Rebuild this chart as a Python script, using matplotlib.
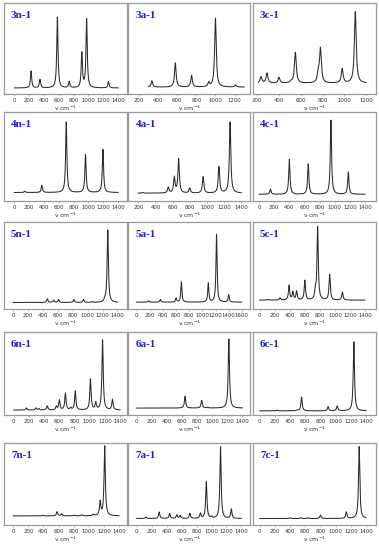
import matplotlib

matplotlib.use("Agg")
import matplotlib.pyplot as plt
import numpy as np

# panel names, row by row
names = ["3n-1", "3a-1", "3c-1",
         "4n-1", "4a-1", "4c-1",
         "5n-1", "5a-1", "5c-1",
         "6n-1", "6a-1", "6c-1",
         "7n-1", "7a-1", "7c-1"]

# wavenumber span of each trace (cm-1)
spans = [(0, 1400), (300, 1300), (210, 1200),
         (0, 1400), (200, 1400), (0, 1400),
         (0, 1400), (0, 1600), (0, 1400),
         (0, 1400), (0, 1400), (0, 1400),
         (0, 1400), (0, 1400), (0, 1400)]

# tick labels
ticks = [list(range(0, 1401, 200)), list(range(200, 1201, 200)), list(range(200, 1201, 200)),
         list(range(0, 1401, 200)), list(range(200, 1401, 200)), list(range(0, 1401, 200)),
         list(range(0, 1401, 200)), list(range(0, 1601, 200)), list(range(0, 1401, 200)),
         list(range(0, 1401, 200)), list(range(0, 1401, 200)), list(range(0, 1401, 200)),
         list(range(0, 1401, 200)), list(range(0, 1401, 200)), list(range(0, 1401, 200))]

# band positions (cm-1) and relative intensities
peak_pos = [
    [225, 345, 580, 740, 910, 975, 1270],
    [335, 580, 750, 930, 1000, 1210],
    [235, 290, 400, 510, 550, 760, 780, 980, 1100],
    [140, 370, 700, 960, 1195],
    [250, 550, 620, 670, 800, 955, 1140, 1270],
    [150, 400, 650, 950, 1180],
    [460, 545, 610, 815, 945, 1060, 1230, 1270],
    [180, 360, 600, 680, 1090, 1215, 1400],
    [110, 270, 390, 440, 490, 600, 740, 770, 930, 1100],
    [165, 290, 330, 440, 560, 600, 680, 750, 810, 1010, 1080, 1170, 1300],
    [640, 860, 940, 1220],
    [230, 490, 550, 900, 1020, 1240],
    [395, 580, 640, 800, 905, 1060, 1150, 1210],
    [120, 300, 440, 535, 580, 710, 850, 930, 1000, 1120, 1265],
    [400, 540, 640, 800, 1140, 1310],
]
peak_int = [
    [0.24, 0.12, 1.0, 0.09, 0.49, 0.97, 0.09],
    [0.09, 0.35, 0.17, 0.06, 1.0, 0.03],
    [0.09, 0.14, 0.08, 0.02, 0.43, 0.12, 0.48, 0.20, 1.0],
    [0.02, 0.10, 1.0, 0.54, 0.61],
    [0.01, 0.08, 0.22, 0.48, 0.07, 0.23, 0.37, 1.0],
    [0.07, 0.47, 0.41, 1.0, 0.30],
    [0.05, 0.03, 0.04, 0.04, 0.04, 0.01, 0.03, 1.0],
    [0.02, 0.04, 0.06, 0.30, 0.28, 1.0, 0.11],
    [0.01, 0.03, 0.20, 0.11, 0.12, 0.27, 0.11, 1.0, 0.35, 0.11],
    [0.03, 0.03, 0.02, 0.06, 0.05, 0.14, 0.24, 0.03, 0.27, 0.44, 0.10, 1.0, 0.15],
    [0.17, 0.11, 0.01, 1.0],
    [0.01, 0.01, 0.20, 0.06, 0.07, 1.0],
    [0.01, 0.06, 0.03, 0.01, 0.015, 0.02, 0.20, 1.0],
    [0.02, 0.09, 0.07, 0.05, 0.04, 0.07, 0.07, 0.51, 0.02, 1.0, 0.13],
    [0.01, 0.01, 0.01, 0.05, 0.09, 1.0],
]

# layout (pixels of the 379x550 figure)
W, H = 379, 550
col_x0 = [3.5, 128.0, 252.5]
col_x1 = [127.0, 250.5, 376.0]
row_y0 = [3, 112, 222, 332, 443]
row_y1 = [94, 201, 309, 415, 525]
xlims = [(-147, 1520), (85, 1367), (157, 1290),
         (-147, 1520), (80, 1508), (-87, 1546),
         (-128, 1528), (-132, 1732), (-97, 1547),
         (-136, 1492), (-116, 1507), (-97, 1532),
         (-128, 1505), (-117, 1521), (-97, 1532)]
ylims = [(-0.085, 1.2), (-0.1, 1.22), (-0.15, 1.12),
         (-0.12, 1.14), (-0.11, 1.14), (-0.09, 1.11),
         (-0.09, 1.11), (-0.1, 1.18), (-0.12, 1.06),
         (-0.07, 1.11), (-0.1, 1.1), (-0.06, 1.14),
         (-0.13, 1.04), (-0.09, 1.05), (-0.09, 1.05)]

HWHM = 10.0

fig = plt.figure(figsize=(W / 100, H / 100), dpi=100)
for i, name in enumerate(names):
    r, c = divmod(i, 3)
    x0, x1 = col_x0[c], col_x1[c]
    y0, y1 = row_y0[r], row_y1[r]
    ax = fig.add_axes([x0 / W, 1 - y1 / H, (x1 - x0) / W, (y1 - y0) / H])

    x = np.linspace(spans[i][0], spans[i][1], 3000)
    y = np.zeros_like(x)
    for p, a in zip(peak_pos[i], peak_int[i]):
        y += a * HWHM**2 / ((x - p) ** 2 + HWHM**2)
    y /= y.max()
    ax.plot(x, y, color="#2b2b2b", lw=0.75)

    ax.set_xlim(*xlims[i])
    ax.set_ylim(*ylims[i])
    ax.set_xticks(ticks[i])
    ax.set_xticklabels([str(t) for t in ticks[i]], fontsize=3.9, color="#333333")
    ax.tick_params(axis="x", length=1.2, width=0.4, pad=1.5, color="#888888")
    ax.set_yticks([])
    for s in ax.spines.values():
        s.set_color("#9a9a9a")
        s.set_linewidth(0.9)
    ax.set_xlabel("ν cm$^{-1}$", fontsize=4.5, labelpad=1.0, color="#333333")
    ax.text(7.5 / (x1 - x0), 1 - 12.5 / (y1 - y0), name, transform=ax.transAxes,
            fontsize=8, fontweight="bold", family="Liberation Serif",
            color="#2020c0", va="center", ha="left")

fig.savefig("out.png", dpi=100)
